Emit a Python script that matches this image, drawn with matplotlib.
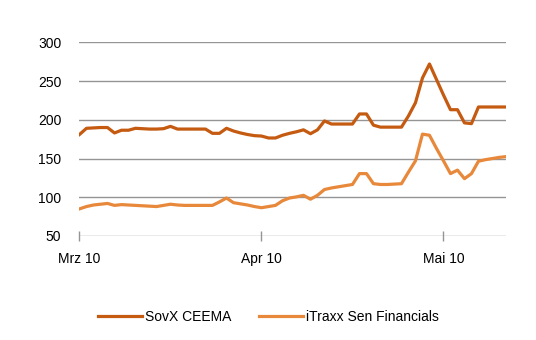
import numpy as np
import matplotlib
matplotlib.use('Agg')
import matplotlib.pyplot as plt

plt.rcParams['font.family'] = ['Liberation Sans', 'DejaVu Sans']

# Data (trading days, Mar - mid May 2010)
sovx = [181, 189, 189.5, 190, 190, 183, 186.5, 186.5, 189, 188.5,
        188, 188, 188.5, 191.5, 188, 188, 188, 188, 188, 182.5,
        182.5, 189, 185.5, 183, 181, 179.5, 179, 176.5, 176.5, 180,
        182.5, 184.5, 187, 182, 187, 198.5, 194.5, 194.5, 194.5, 194.5,
        207.5, 207.5, 193, 190.5, 190.5, 190.5, 190.5, 205, 222, 254,
        272, 252, 232, 213, 213, 196, 195, 216.5, 216.5, 216.5,
        216.5, 216.5]
itraxx = [85, 88, 90, 91, 92, 89.5, 90.5, 90, 89.5, 89,
          88.5, 88, 89.5, 91, 90, 89.5, 89.5, 89.5, 89.5, 89.5,
          94, 99, 93, 91.5, 90, 88, 86.5, 88, 89.5, 95.5,
          99, 100.5, 102.5, 97.5, 102.5, 110, 112, 113.5, 115, 116.5,
          130.5, 130.5, 117.5, 116.5, 116.5, 117, 117.5, 132.5, 147, 181.5,
          180, 163, 147, 130.5, 135, 124, 130.5, 146.5, 148.5, 150,
          151.5, 152.5]
month_labels = ['Mrz 10', 'Apr 10', 'Mai 10']
month_pos = [0, 26, 52]
yticks = [50, 100, 150, 200, 250, 300]

x = np.arange(len(sovx))

fig = plt.figure(figsize=(5.36, 3.40), dpi=100)
ax = fig.add_axes([0.1483, 0.3059, 0.7966, 0.5697])

ax.plot(x, sovx, color='#C55A11', lw=2.3, label='SovX CEEMA', solid_joinstyle='round')
ax.plot(x, itraxx, color='#E8883A', lw=2.3, label='iTraxx Sen Financials', solid_joinstyle='round')

ax.set_xlim(0, len(sovx) - 1)
ax.set_ylim(50, 300)
ax.set_yticks(yticks)
ax.set_xticks(month_pos)
ax.set_xticklabels(month_labels)

# gridlines only, no frame
ax.grid(axis='y', color='#959595', lw=1)
ax.set_axisbelow(True)
for s in ax.spines.values():
    s.set_visible(False)
ax.tick_params(axis='y', length=0, pad=13, labelsize=10)
ax.tick_params(axis='x', direction='inout', length=7, width=1, color='#959595',
               pad=8, labelsize=10)

fig.legend(loc='center', bbox_to_anchor=(0.5007, 0.068), ncol=2, frameon=False,
           fontsize=10, handlelength=3.2, handletextpad=0.2, columnspacing=2.0)

plt.savefig('out.png', dpi=100)
